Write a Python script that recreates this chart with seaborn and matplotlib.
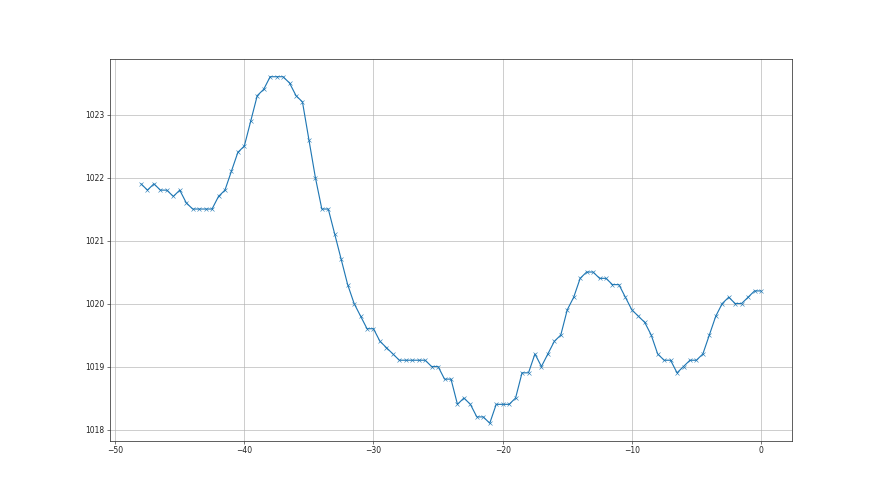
import numpy as np
import pandas as pd
import matplotlib
matplotlib.use("Agg")
import matplotlib.pyplot as plt
import seaborn as sns

# hours relative to now, half-hour steps
hours = [
    -48, -47.5, -47, -46.5, -46, -45.5, -45, -44.5, -44, -43.5,
    -43, -42.5, -42, -41.5, -41, -40.5, -40, -39.5, -39, -38.5,
    -38, -37.5, -37, -36.5, -36, -35.5, -35, -34.5, -34, -33.5,
    -33, -32.5, -32, -31.5, -31, -30.5, -30, -29.5, -29, -28.5,
    -28, -27.5, -27, -26.5, -26, -25.5, -25, -24.5, -24, -23.5,
    -23, -22.5, -22, -21.5, -21, -20.5, -20, -19.5, -19, -18.5,
    -18, -17.5, -17, -16.5, -16, -15.5, -15, -14.5, -14, -13.5,
    -13, -12.5, -12, -11.5, -11, -10.5, -10, -9.5, -9, -8.5,
    -8, -7.5, -7, -6.5, -6, -5.5, -5, -4.5, -4, -3.5,
    -3, -2.5, -2, -1.5, -1, -0.5, 0,
]

pressure = [
    1021.9, 1021.8, 1021.9, 1021.8, 1021.8, 1021.7, 1021.8, 1021.6, 1021.5, 1021.5,
    1021.5, 1021.5, 1021.7, 1021.8, 1022.1, 1022.4, 1022.5, 1022.9, 1023.3, 1023.4,
    1023.6, 1023.6, 1023.6, 1023.5, 1023.3, 1023.2, 1022.6, 1022.0, 1021.5, 1021.5,
    1021.1, 1020.7, 1020.3, 1020.0, 1019.8, 1019.6, 1019.6, 1019.4, 1019.3, 1019.2,
    1019.1, 1019.1, 1019.1, 1019.1, 1019.1, 1019.0, 1019.0, 1018.8, 1018.8, 1018.4,
    1018.5, 1018.4, 1018.2, 1018.2, 1018.1, 1018.4, 1018.4, 1018.4, 1018.5, 1018.9,
    1018.9, 1019.2, 1019.0, 1019.2, 1019.4, 1019.5, 1019.9, 1020.1, 1020.4, 1020.5,
    1020.5, 1020.4, 1020.4, 1020.3, 1020.3, 1020.1, 1019.9, 1019.8, 1019.7, 1019.5,
    1019.2, 1019.1, 1019.1, 1018.9, 1019.0, 1019.1, 1019.1, 1019.2, 1019.5, 1019.8,
    1020.0, 1020.1, 1020.0, 1020.0, 1020.1, 1020.2, 1020.2,
]

df = pd.DataFrame({"hours": hours, "pressure": pressure})

sns.set_style("whitegrid", {
    "axes.edgecolor": "#333333",
    "grid.color": "#b0b0b0",
    "xtick.bottom": True,
    "ytick.left": True,
})
plt.rcParams["font.family"] = ["DejaVu Sans"]

fig, ax = plt.subplots(figsize=(16, 9), dpi=55)
sns.lineplot(data=df, x="hours", y="pressure", marker="x", color="#1f77b4",
             markeredgecolor="#1f77b4", markersize=6, linewidth=1.5, ax=ax)
ax.set_xlabel("")
ax.set_ylabel("")
ax.set_xticks([-50, -40, -30, -20, -10, 0])
ax.set_yticks([1018, 1019, 1020, 1021, 1022, 1023])
ax.tick_params(labelsize=10, colors="#222222", length=4)
ax.grid(True, linewidth=0.8)
for s in ax.spines.values():
    s.set_linewidth(1.0)

plt.savefig("out.png", dpi=55)
plt.close()
